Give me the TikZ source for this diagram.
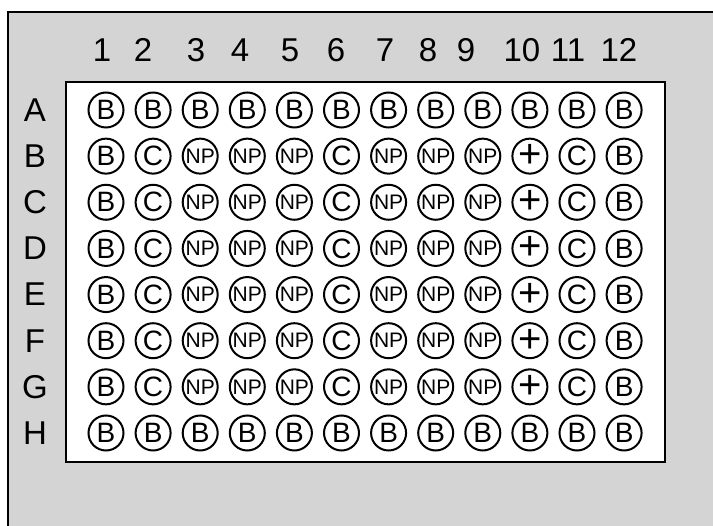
\documentclass[tikz,border=0pt]{standalone}
\usepackage{fontspec}
\setmainfont{Liberation Sans}
\usepackage{tikz}
\usetikzlibrary{positioning}
\definecolor{scangray}{RGB}{212,212,212}

\newcommand{\npmark}{{\fontsize{21}{21}\selectfont NP}}
\newcommand{\posmark}{{\fontsize{40}{40}\selectfont +}}

\begin{document}
\begin{tikzpicture}[
    x=1pt, y=-1pt,
    well/.style={draw, circle, line width=2pt, minimum size=35pt, inner sep=0pt, font=\fontsize{28}{28}\selectfont},
    lbl/.style={inner sep=0pt, font=\fontsize{33}{33}\selectfont}
]
\useasboundingbox (0,0) rectangle (713,526);
\fill[scangray] (8,12) rectangle (713,526);
\draw[line width=2pt] (8,526) -- (8,12) -- (713,12);
\draw[line width=2pt, fill=white] (66,82) rectangle (665,462);

% column and row labels
\foreach \c/\x in {1/102, 2/143, 3/196, 4/240, 5/290, 6/336, 7/385, 8/428, 9/466, 10/522, 11/568, 12/619}
    \node[lbl] (col\c) at (\x,50) {\c};
\foreach \r [count=\i] in {A,B,C,D,E,F,G,H}
    \node[lbl] (row\r) at (35,{110+46.14*(\i-1)}) {\r};

% blank rows
\foreach \c in {1,...,12} {
    \node[well] (A\c) at ({106+47.1*(\c-1)},110) {B};
    \node[well] (H\c) at ({106+47.1*(\c-1)},433) {B};
}
% sample rows
\foreach \r [count=\i] in {B,C,D,E,F,G} {
    \foreach \t [count=\c] in {B,C,\npmark,\npmark,\npmark,C,\npmark,\npmark,\npmark,\posmark,C,B}
        \node[well] (\r\c) at ({106+47.1*(\c-1)},{110+46.14*\i}) {\t};
}
\end{tikzpicture}
\end{document}
